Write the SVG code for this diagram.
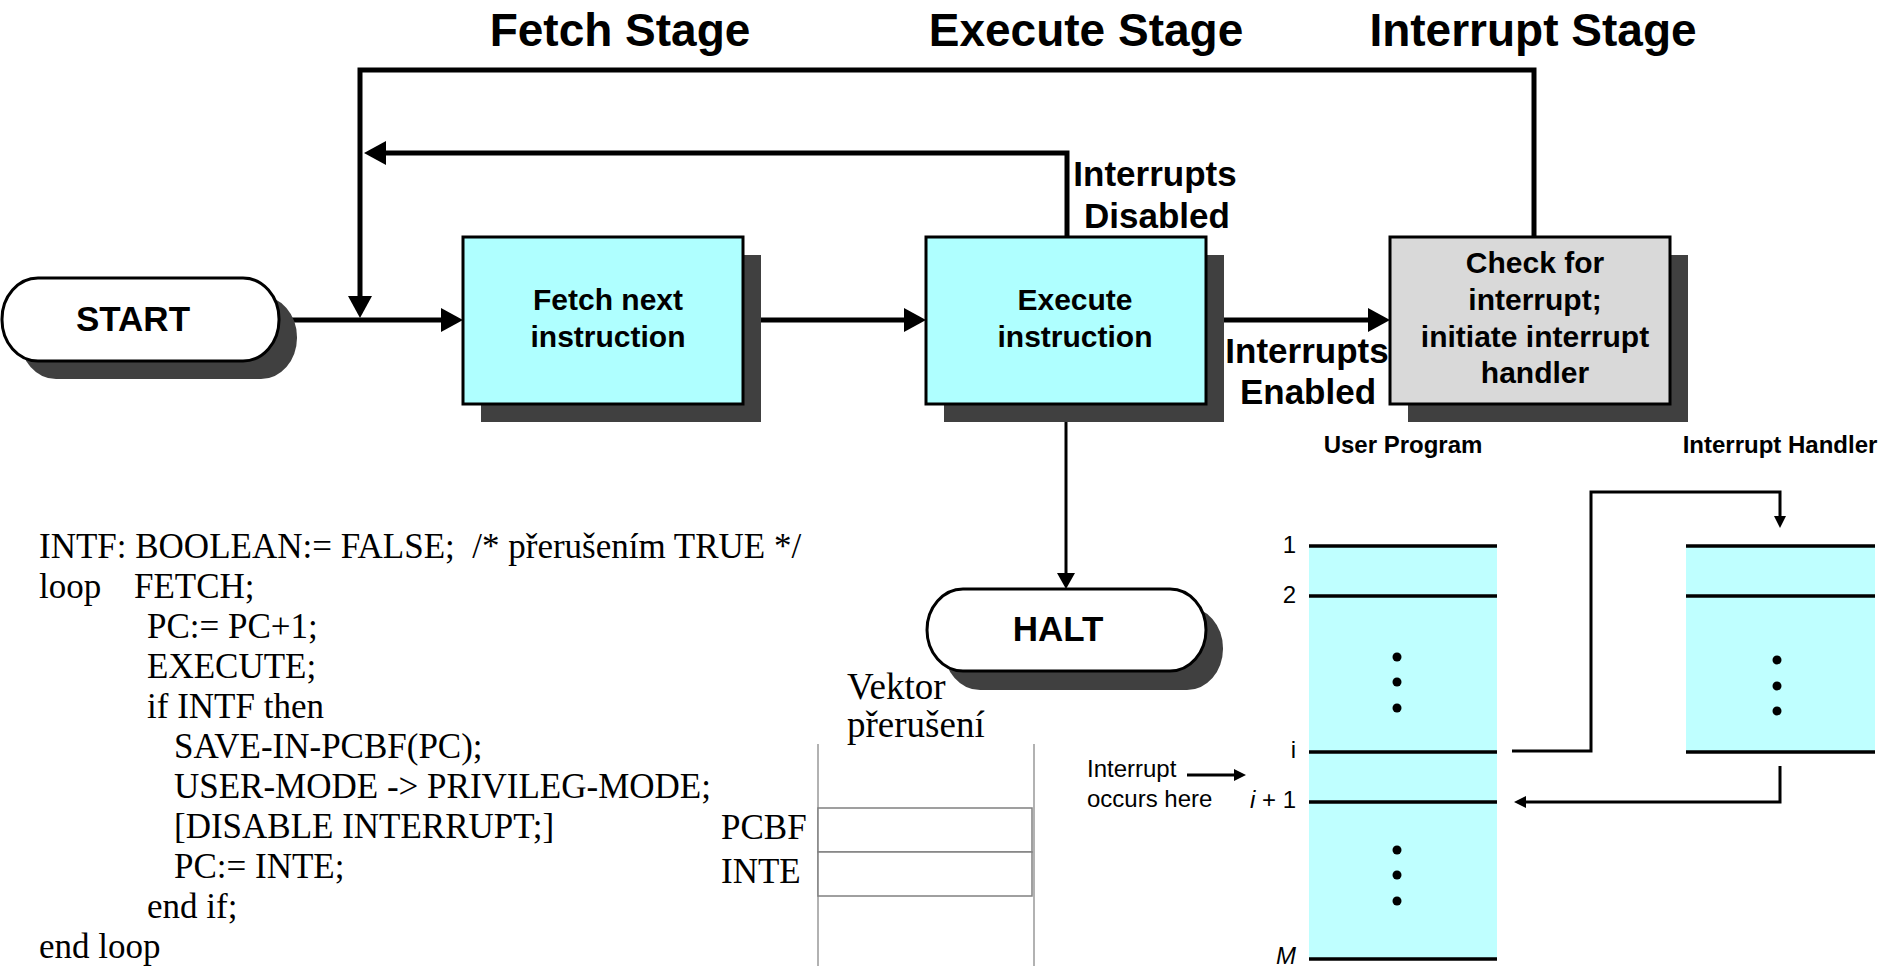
<svg xmlns="http://www.w3.org/2000/svg" width="1883" height="966" viewBox="0 0 1883 966">
<style>
.sans{font-family:"Liberation Sans",Arial,sans-serif}
.title{font-size:46px;font-weight:bold}
.boxt{font-size:30px;font-weight:bold}
.lbl{font-size:35px;font-weight:bold}
.term{font-size:35px;font-weight:bold}
.serif{font-family:"Liberation Serif","Times New Roman",serif;font-size:35px}
.vek{font-size:37px}
.box{stroke:#000;stroke-width:3}
.cyan{fill:#afffff}
.gray{fill:#d9d9d9}
.shadow{fill:#404040}
.thick{fill:none;stroke:#000;stroke-width:5}
.mid{fill:none;stroke:#000;stroke-width:3}
.thin{fill:none;stroke:#000;stroke-width:3}
.col{fill:#bfffff}
.rule{stroke:#000;stroke-width:3.5}
.grid{fill:none;stroke:#999;stroke-width:1.5}
.row{fill:#fff;stroke:#808080;stroke-width:1.5}
.small{font-size:24px}
.hdr{font-size:24px;font-weight:bold}
</style>
<defs>
<marker id="ah" markerUnits="userSpaceOnUse" markerWidth="22" markerHeight="24" refX="0" refY="12" orient="auto"><path d="M0,0 L22,12 L0,24 z" fill="#000"/></marker>
<marker id="am" markerUnits="userSpaceOnUse" markerWidth="16" markerHeight="18" refX="0" refY="9" orient="auto"><path d="M0,0 L16,9 L0,18 z" fill="#000"/></marker>
<marker id="as" markerUnits="userSpaceOnUse" markerWidth="12" markerHeight="12" refX="0" refY="6" orient="auto"><path d="M0,0 L12,6 L0,12 z" fill="#000"/></marker>
</defs>

<g id="titles" class="sans">
<text class="title" x="620" y="46" text-anchor="middle">Fetch Stage</text>
<text class="title" x="1086" y="46" text-anchor="middle">Execute Stage</text>
<text class="title" x="1533" y="46" text-anchor="middle">Interrupt Stage</text>
</g>

<g id="connectors">
<path class="thick" d="M279,320 H441" marker-end="url(#ah)"/>
<path class="thick" d="M743,320 H904" marker-end="url(#ah)"/>
<path class="thick" d="M1206,320 H1368" marker-end="url(#ah)"/>
<path class="thick" d="M1534,237 V70 H360 V296" marker-end="url(#ah)"/>
<path class="thick" d="M1067,237 V153 H386" marker-end="url(#ah)"/>
<path class="mid" d="M1066,404 V573" marker-end="url(#am)"/>
<path class="thin" d="M1512,751 H1591 V492 H1780 V516" marker-end="url(#as)"/>
<path class="thin" d="M1780,766 V802 H1526" marker-end="url(#as)"/>
<path class="thin" d="M1187,775 H1234" marker-end="url(#as)"/>
</g>

<g id="start">
<rect class="shadow" x="20" y="296" width="277" height="83" rx="36" ry="41"/>
<rect class="box" fill="#fff" x="2" y="278" width="277" height="83" rx="36" ry="41"/>
<text class="sans term" x="133" y="331" text-anchor="middle">START</text>
</g>

<g id="fetch">
<rect class="shadow" x="481" y="255" width="280" height="167"/>
<rect class="box cyan" x="463" y="237" width="280" height="167"/>
<text class="sans boxt" text-anchor="middle"><tspan x="608" y="310">Fetch next</tspan><tspan x="608" y="347">instruction</tspan></text>
</g>

<g id="execute">
<rect class="shadow" x="944" y="255" width="280" height="167"/>
<rect class="box cyan" x="926" y="237" width="280" height="167"/>
<text class="sans boxt" text-anchor="middle"><tspan x="1075" y="310">Execute</tspan><tspan x="1075" y="347">instruction</tspan></text>
</g>

<g id="check">
<rect class="shadow" x="1408" y="255" width="280" height="167"/>
<rect class="box gray" x="1390" y="237" width="280" height="167"/>
<text class="sans boxt" text-anchor="middle"><tspan x="1535" y="273">Check for</tspan><tspan x="1535" y="310">interrupt;</tspan><tspan x="1535" y="347">initiate interrupt</tspan><tspan x="1535" y="383">handler</tspan></text>
</g>

<g id="label-disabled" class="sans lbl">
<text text-anchor="middle"><tspan x="1155" y="186">Interrupts</tspan><tspan x="1157" y="228">Disabled</tspan></text>
</g>
<g id="label-enabled" class="sans lbl">
<text text-anchor="middle"><tspan x="1307" y="363">Interrupts</tspan><tspan x="1308" y="404">Enabled</tspan></text>
</g>

<g id="halt">
<rect class="shadow" x="944" y="607" width="279" height="83" rx="36" ry="41"/>
<rect class="box" fill="#fff" x="927" y="589" width="279" height="82" rx="36" ry="41"/>
<text class="sans term" x="1058" y="641" text-anchor="middle">HALT</text>
</g>

<g id="code" class="serif">
<text x="39" y="558" xml:space="preserve">INTF: BOOLEAN:= FALSE;  /* přerušením TRUE */</text>
<text x="39" y="598">loop</text>
<text x="134" y="598">FETCH;</text>
<text x="147" y="638">PC:= PC+1;</text>
<text x="147" y="678">EXECUTE;</text>
<text x="147" y="718">if INTF then</text>
<text x="174" y="758">SAVE-IN-PCBF(PC);</text>
<text x="174" y="798">USER-MODE -&gt; PRIVILEG-MODE;</text>
<text x="174" y="838">[DISABLE INTERRUPT;]</text>
<text x="174" y="878">PC:= INTE;</text>
<text x="147" y="918">end if;</text>
<text x="39" y="958">end loop</text>
</g>

<g id="vektor">
<text class="serif vek"><tspan x="847" y="699">Vektor</tspan><tspan x="847" y="737">přerušení</tspan></text>
<line class="grid" x1="818" y1="744" x2="818" y2="966"/>
<line class="grid" x1="1034" y1="744" x2="1034" y2="966"/>
<rect class="row" x="818" y="808" width="214" height="44"/>
<rect class="row" x="818" y="852" width="214" height="44"/>
<text class="serif" x="721" y="839">PCBF</text>
<text class="serif" x="721" y="883">INTE</text>
</g>

<g id="user-program" class="sans">
<text class="hdr" x="1403" y="453" text-anchor="middle">User Program</text>
<rect class="col" x="1309" y="546" width="188" height="413"/>
<line class="rule" x1="1309" y1="546" x2="1497" y2="546"/>
<line class="rule" x1="1309" y1="596" x2="1497" y2="596"/>
<line class="rule" x1="1309" y1="752" x2="1497" y2="752"/>
<line class="rule" x1="1309" y1="802" x2="1497" y2="802"/>
<line class="rule" x1="1309" y1="959" x2="1497" y2="959"/>
<circle cx="1397" cy="657" r="4.5"/><circle cx="1397" cy="682" r="4.5"/><circle cx="1397" cy="708" r="4.5"/>
<circle cx="1397" cy="850" r="4.5"/><circle cx="1397" cy="875" r="4.5"/><circle cx="1397" cy="901" r="4.5"/>
<text class="small" x="1296" y="553" text-anchor="end">1</text>
<text class="small" x="1296" y="603" text-anchor="end">2</text>
<text class="small" x="1296" y="758" text-anchor="end">i</text>
<text class="small" x="1296" y="808" text-anchor="end"><tspan font-style="italic">i</tspan> + 1</text>
<text class="small" x="1296" y="964" text-anchor="end" font-style="italic">M</text>
<text class="small"><tspan x="1087" y="777">Interrupt</tspan><tspan x="1087" y="807">occurs here</tspan></text>
</g>

<g id="interrupt-handler" class="sans">
<text class="hdr" x="1780" y="453" text-anchor="middle">Interrupt Handler</text>
<rect class="col" x="1686" y="546" width="189" height="206"/>
<line class="rule" x1="1686" y1="546" x2="1875" y2="546"/>
<line class="rule" x1="1686" y1="596" x2="1875" y2="596"/>
<line class="rule" x1="1686" y1="752" x2="1875" y2="752"/>
<circle cx="1777" cy="660" r="4.5"/><circle cx="1777" cy="686" r="4.5"/><circle cx="1777" cy="711" r="4.5"/>
</g>
</svg>
